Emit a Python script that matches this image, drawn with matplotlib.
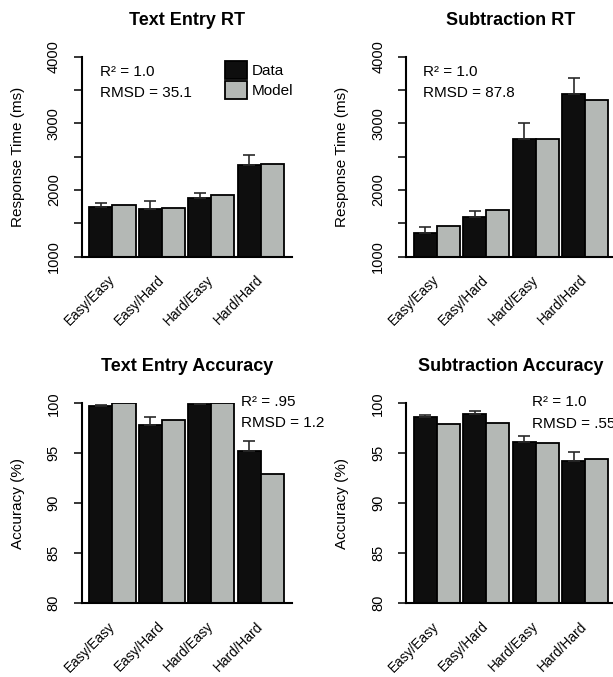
import matplotlib
matplotlib.use("Agg")
import matplotlib.pyplot as plt
import numpy as np

plt.rcParams['font.family'] = ['Liberation Sans', 'DejaVu Sans']

categories = ['Easy/Easy', 'Easy/Hard', 'Hard/Easy', 'Hard/Hard']

# Text entry RT (ms)
te_rt_data = [1750, 1720, 1885, 2380]
te_rt_err = [50, 110, 75, 145]
te_rt_model = [1775, 1725, 1930, 2395]

# Subtraction RT (ms)
sub_rt_data = [1350, 1600, 2770, 3435]
sub_rt_err = [100, 80, 240, 250]
sub_rt_model = [1455, 1700, 2765, 3350]

# Text entry accuracy (%)
te_acc_data = [99.73, 97.8, 99.9, 95.27]
te_acc_err = [0.1, 0.8, 0.05, 0.96]
te_acc_model = [100.0, 98.33, 100.0, 92.9]

# Subtraction accuracy (%)
sub_acc_data = [98.63, 98.93, 96.1, 94.27]
sub_acc_err = [0.2, 0.34, 0.63, 0.9]
sub_acc_model = [97.93, 98.0, 96.0, 94.4]

rt_ticks = [1000, 1500, 2000, 2500, 3000, 3500, 4000]
rt_ticklabels = ['1000', '', '2000', '', '3000', '', '4000']
acc_ticks = [80, 85, 90, 95, 100]
acc_ticklabels = ['80', '85', '90', '95', '100']

DATA_COL = '#0e0e0e'
MODEL_COL = '#b4b8b5'
space = 0.15

W, H = 613, 677
fig = plt.figure(figsize=(W / 100, H / 100), dpi=100)


def panel(rect, title, data, err, model, ticks, ticklabels, ylabel,
          stats, stats_x, stats_y, legend=False):
    ax = fig.add_axes(rect)
    n = len(categories)
    left = space + np.arange(n) * (2 + space)
    xd = left + 0.5
    xm = left + 1.5
    b1 = ax.bar(xd, data, width=1, color=DATA_COL, edgecolor='black',
                linewidth=1.3, label='Data', zorder=2)
    b2 = ax.bar(xm, model, width=1, color=MODEL_COL, edgecolor='black',
                linewidth=1.3, label='Model', zorder=2)
    ax.errorbar(xd, data, yerr=[np.zeros(n), err], fmt='none',
                ecolor='#2a2a2a', elinewidth=1.2, capsize=4.3,
                capthick=1.2, zorder=3)
    rng = n * (2 + space) - space
    ax.set_xlim(space - 0.04 * rng, n * (2 + space) + 0.04 * rng)
    ax.set_ylim(ticks[0], ticks[-1])
    for s in ['top', 'right']:
        ax.spines[s].set_visible(False)
    for s in ['left', 'bottom']:
        ax.spines[s].set_linewidth(1.5)
    ax.set_yticks(ticks)
    ax.set_yticklabels(ticklabels, rotation=90, va='center', fontsize=10.5)
    ax.tick_params(axis='y', length=6, width=1.1, pad=9)
    ax.set_xticks(left + 1.0)
    ax.set_xticklabels(categories, rotation=45, ha='right', va='center',
                       rotation_mode='anchor', fontsize=9.8)
    ax.tick_params(axis='x', length=0, pad=15)
    ax.set_ylabel(ylabel, fontsize=11, va='center')
    ax.yaxis.set_label_coords(-0.303, 0.5)
    ax.text(0.5, 1.183, title, transform=ax.transAxes, ha='center',
            va='center', fontsize=13, fontweight='bold')
    ax.text(stats_x, stats_y, stats[0], transform=ax.transAxes,
            ha='left', va='center', fontsize=11)
    ax.text(stats_x, stats_y - 0.108, stats[1], transform=ax.transAxes,
            ha='left', va='center', fontsize=11)
    if legend:
        ax.legend(handles=[b1, b2], loc='upper left',
                  bbox_to_anchor=(0.682, 0.98), frameon=False, fontsize=11,
                  handlelength=1.42, handleheight=1.42, labelspacing=0.15,
                  handletextpad=0.33, borderpad=0, borderaxespad=0)
    return ax


aw = 210 / W
ah = 200 / H
xl = 81.7 / W
xr = 406 / W
yt = 1 - 256.7 / H
yb = 1 - 603.3 / H

panel([xl, yt, aw, ah], 'Text Entry RT', te_rt_data, te_rt_err, te_rt_model,
      rt_ticks, rt_ticklabels, 'Response Time (ms)',
      ['R\u00b2 = 1.0', 'RMSD = 35.1'], 0.087, 0.925, legend=True)
panel([xr, yt, aw, ah], 'Subtraction RT', sub_rt_data, sub_rt_err,
      sub_rt_model, rt_ticks, rt_ticklabels, 'Response Time (ms)',
      ['R\u00b2 = 1.0', 'RMSD = 87.8'], 0.082, 0.925)
panel([xl, yb, aw, ah], 'Text Entry Accuracy', te_acc_data, te_acc_err,
      te_acc_model, acc_ticks, acc_ticklabels, 'Accuracy (%)',
      ['R\u00b2 = .95', 'RMSD = 1.2'], 0.757, 1.008)
panel([xr, yb, aw, ah], 'Subtraction Accuracy', sub_acc_data, sub_acc_err,
      sub_acc_model, acc_ticks, acc_ticklabels, 'Accuracy (%)',
      ['R\u00b2 = 1.0', 'RMSD = .55'], 0.6, 1.005)

fig.savefig('out.png', dpi=100)
